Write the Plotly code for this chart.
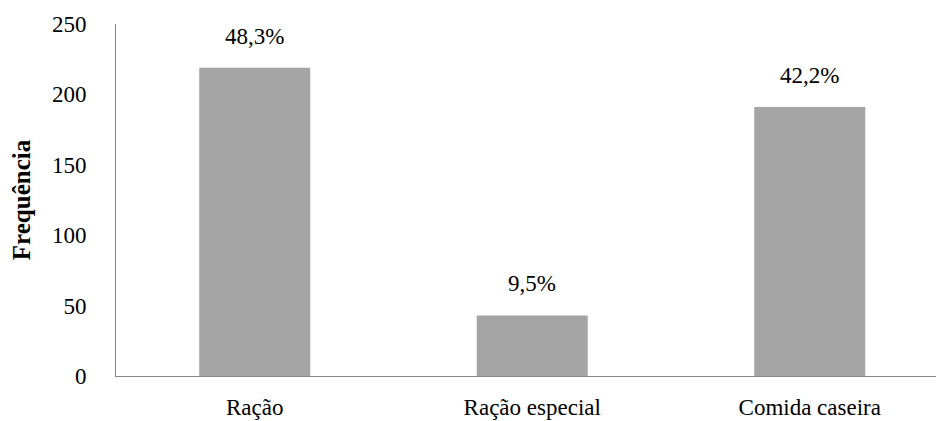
import plotly.graph_objects as go

categories = ["Ração", "Ração especial", "Comida caseira"]
counts = [219, 43, 191]
y_ticks = [0, 50, 100, 150, 200, 250]

total = sum(counts)
pct_labels = [f"{c / total * 100:.1f}%".replace(".", ",") for c in counts]

font_family = "Liberation Serif, serif"
font_size = 23

fig = go.Figure(
    go.Bar(
        x=categories,
        y=counts,
        marker=dict(color="#a5a5a5", line=dict(width=0)),
        width=0.4,
        hoverinfo="skip",
    )
)

for cat, val, lab in zip(categories, counts, pct_labels):
    fig.add_annotation(
        x=cat, y=val, text=lab, showarrow=False,
        yanchor="bottom", yshift=17,
        font=dict(family=font_family, size=font_size, color="black"),
    )

fig.update_layout(
    width=936, height=421,
    margin=dict(l=116, r=0, t=24, b=45),
    paper_bgcolor="white", plot_bgcolor="white",
    showlegend=False,
    font=dict(family=font_family, size=font_size, color="black"),
)
fig.update_xaxes(
    range=[-0.5, 2.455], automargin=False,
    showline=True, linecolor="#868686", linewidth=1,
    showgrid=False, ticks="", ticklabelstandoff=10,
    tickfont=dict(family=font_family, size=font_size, color="black"),
)
fig.update_yaxes(
    range=[0, 250], tickvals=y_ticks, automargin=False,
    showline=True, linecolor="#868686", linewidth=1,
    showgrid=False, zeroline=False, ticks="", ticklabelstandoff=24,
    tickfont=dict(family=font_family, size=font_size, color="black"),
    title=dict(text="<b>Frequência</b>", standoff=14,
               font=dict(family=font_family, size=25, color="black")),
)

fig.write_html("out.html")
